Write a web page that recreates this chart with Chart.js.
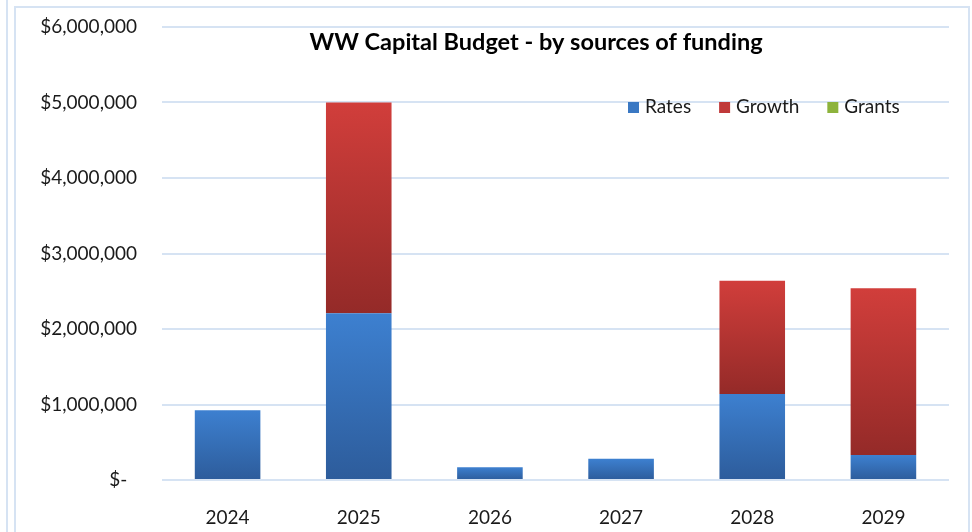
<!DOCTYPE html>
<html>
<head>
<meta charset="utf-8">
<script src="https://cdn.jsdelivr.net/npm/chart.js@4/dist/chart.umd.min.js"></script>
<style>
  html, body { margin: 0; padding: 0; background: #fff; }
  #wrap { width: 972px; height: 532px; position: relative; }
</style>
</head>
<body>
<div id="wrap"><canvas id="chart" width="972" height="532"></canvas></div>
<script>
// chart data
const years = ['2024', '2025', '2026', '2027', '2028', '2029'];
const rates = [925000, 2210000, 170000, 280000, 1140000, 330000];
const growth = [0, 2790000, 0, 0, 1500000, 2210000];
const grants = [0, 0, 0, 0, 0, 0];
const yTicks = [0, 1000000, 2000000, 3000000, 4000000, 5000000, 6000000];

const FONT = 'Lato, "Open Sans", sans-serif';
const GRID = '#d6e3f3';
const TEXT = '#1a1a1a';

// gradient for one bar segment, lighter at the top like the Excel fill
function segmentGradient(ctx, top, bottom, low) {
    const chart = ctx.chart;
    const y = chart.scales.y;
    if (!y || !chart.chartArea) return top;
    const i = ctx.dataIndex;
    let from = 0;
    let to = 0;
    if (low === 'rates') { from = 0; to = rates[i]; }
    else if (low === 'growth') { from = rates[i]; to = rates[i] + growth[i]; }
    else { from = rates[i] + growth[i]; to = from + grants[i]; }
    const y0 = y.getPixelForValue(to);
    const y1 = y.getPixelForValue(from);
    if (!isFinite(y0) || !isFinite(y1) || y0 === y1) return top;
    const g = chart.ctx.createLinearGradient(0, y0, 0, y1);
    g.addColorStop(0, top);
    g.addColorStop(1, bottom);
    return g;
}

// frame lines + title + legend drawn inside the plot
const decorations = {
    id: 'decorations',
    beforeDraw(chart) {
        const c = chart.ctx;
        c.save();
        c.strokeStyle = GRID;
        c.lineWidth = 2;
        c.beginPath();
        c.moveTo(7, 0); c.lineTo(7, 532);
        c.moveTo(15, 532); c.lineTo(15, 7); c.lineTo(969, 7); c.lineTo(969, 532);
        c.stroke();
        c.restore();
    },
    afterDraw(chart) {
        const c = chart.ctx;
        c.save();
        c.fillStyle = '#000';
        c.font = 'bold 23.5px ' + FONT;
        c.textAlign = 'center';
        c.textBaseline = 'middle';
        c.fillText('WW Capital Budget - by sources of funding', 536, 42);

        const items = [
            ['Rates', '#3a78c3'],
            ['Growth', '#c0393a'],
            ['Grants', '#8db33c']
        ];
        c.font = '19px ' + FONT;
        c.textAlign = 'left';
        let x = 628;
        items.forEach(([label, color]) => {
            c.fillStyle = color;
            c.fillRect(x, 102, 11, 11);
            c.fillStyle = TEXT;
            c.fillText(label, x + 17, 107);
            x += 17 + c.measureText(label).width + 28;
        });
        c.restore();
    }
};

new Chart(document.getElementById('chart'), {
    type: 'bar',
    data: {
        labels: years,
        datasets: [
            {
                label: 'Rates',
                data: rates,
                backgroundColor: ctx => segmentGradient(ctx, '#3d80d0', '#2d5c9b', 'rates'),
                barPercentage: 0.5,
                categoryPercentage: 1
            },
            {
                label: 'Growth',
                data: growth,
                backgroundColor: ctx => segmentGradient(ctx, '#d13e3b', '#942a28', 'growth'),
                barPercentage: 0.5,
                categoryPercentage: 1
            },
            {
                label: 'Grants',
                data: grants,
                backgroundColor: ctx => segmentGradient(ctx, '#9cc446', '#789c30', 'grants'),
                barPercentage: 0.5,
                categoryPercentage: 1
            }
        ]
    },
    options: {
        responsive: false,
        animation: false,
        layout: { padding: { left: 15, right: 23, top: 27, bottom: 0 } },
        plugins: {
            legend: { display: false },
            title: { display: false },
            tooltip: { enabled: false }
        },
        scales: {
            x: {
                stacked: true,
                grid: { display: false },
                border: { display: false },
                ticks: { color: TEXT, font: { family: FONT, size: 19 }, padding: 18 },
                afterFit(scale) { scale.height = 52; }
            },
            y: {
                stacked: true,
                min: 0,
                max: 6000000,
                afterBuildTicks(scale) { scale.ticks = yTicks.map(v => ({ value: v })); },
                grid: { color: GRID, lineWidth: 2, drawTicks: false },
                border: { display: false },
                ticks: {
                    color: TEXT,
                    font: { family: FONT, size: 19 },
                    padding: 25,
                    callback: v => v === 0 ? '$-  ' : '$' + v.toLocaleString('en-US')
                },
                afterFit(scale) {
                    scale.width = 147;
                    scale.paddingTop = 0;
                    scale.paddingBottom = 0;
                }
            }
        }
    },
    plugins: [decorations]
});
</script>
</body>
</html>
